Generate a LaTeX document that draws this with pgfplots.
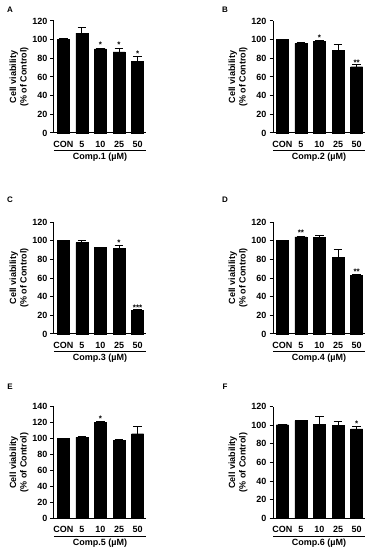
\documentclass[border=0pt]{standalone}
\usepackage{pgfplots}
\pgfplotsset{compat=1.18}
\usepackage{pgfplotstable}
\usepackage{fontspec}
\setmainfont{Liberation Sans}

\pgfplotstableread{
x y e
0 100 1
1 107 6.5
2 90 0.5
3 87 3.5
4 77 5
}\dataA
\pgfplotstableread{
x y s
2 95.8 *
3 96.5 *
4 87 *
}\starA
\pgfplotstableread{
x y e
0 100 0.5
1 96 0.5
2 98 1
3 88.5 6.3
4 71 2.5
}\dataB
\pgfplotstableread{
x y s
2 103.7 *
4 77.4 **
}\starB
\pgfplotstableread{
x y e
0 100 0.7
1 98 2.2
2 92.5 0.7
3 92 3
4 25.5 0.5
}\dataC
\pgfplotstableread{
x y s
3 99.7 *
4 30.2 ***
}\starC
\pgfplotstableread{
x y e
0 100 0.7
1 104 0.5
2 103.5 2
3 82 8.5
4 62.5 1
}\dataD
\pgfplotstableread{
x y s
1 110 **
4 68.5 **
}\starD
\pgfplotstableread{
x y e
0 100 0.5
1 101.5 1
2 120 1.5
3 98 0.3
4 106 9
}\dataE
\pgfplotstableread{
x y s
2 126.4 *
}\starE
\pgfplotstableread{
x y e
0 100.5 0.5
1 105 0.3
2 101 7.8
3 99.5 4.2
4 96 3
}\dataF
\pgfplotstableread{
x y s
4 102.7 *
}\starF

\pgfplotsset{
  common/.style={
    scale only axis, width=92pt, height=112pt,
    anchor=south west,
    xmin=-0.5, xmax=4.45, ymin=0,
    enlarge y limits=false,
    axis x line*=bottom, axis y line*=left,
    axis line style={line width=1pt, -},
    xtick={0,1,2,3,4}, xticklabels={CON,5,10,25,50},
    major tick length=3.5pt,
    tick align=outside,
    tick style={line width=1pt, black},
    xtick style={draw=none},
    /pgf/number format/assume math mode=true,
    ticklabel style={font=\bfseries\fontsize{9}{10}\selectfont},
    yticklabel style={xshift=0.5pt},
    xticklabel style={yshift=-1pt},
    ylabel={Cell viability\\(\% of Control)},
    ylabel style={at={(axis description cs:-0.38,0.5)}, anchor=center, align=center,
      font=\bfseries\fontsize{9}{10.5}\selectfont},
    xlabel style={at={(axis description cs:0.5,0)}, anchor=center, yshift=-24.5pt,
      font=\bfseries\fontsize{9}{10}\selectfont},
    clip=false,
  },
  barst/.style={ybar, bar width=12pt, fill=black, draw=black,
    error bars/.cd, y dir=plus, y explicit,
    error bar style={line width=1pt, black},
    error mark options={rotate=90, mark size=4.3pt, line width=1pt, black}},
  starst/.style={draw=none, mark=none, nodes near coords, point meta=explicit symbolic,
    nodes near coords style={anchor=center, inner sep=0pt, yshift=-1.5pt,
      font=\bfseries\fontsize{8}{9}\selectfont}},
}

\newcommand\panel[6]{%
\begin{axis}[common, at={(#1,#2)}, ymax=#3, ytick={0,20,...,#3}, xlabel={Comp.#6 (µM)}]
\addplot[barst] table[x=x, y=y, y error=e]{#4};
\addplot[starst] table[x=x, y=y, meta=s]{#5};
\draw[line width=1pt] ([yshift=-17.7pt]rel axis cs:0,0) -- ([yshift=-17.7pt]rel axis cs:1,0);
\end{axis}
}

\begin{document}
\begin{tikzpicture}
\path[use as bounding box] (0,0) rectangle (372pt,550pt);
\panel{54pt}{417pt}{120}{\dataA}{\starA}{1}
\panel{273pt}{417pt}{120}{\dataB}{\starB}{2}
\panel{54pt}{216pt}{120}{\dataC}{\starC}{3}
\panel{273pt}{216pt}{120}{\dataD}{\starD}{4}
\panel{54pt}{31.5pt}{140}{\dataE}{\starE}{5}
\panel{273pt}{31.5pt}{120}{\dataF}{\starF}{6}
\begin{scope}[every node/.style={font=\bfseries\fontsize{8}{9}\selectfont}]
\node at (10pt,540pt) {A};
\node at (225pt,540pt) {B};
\node at (10pt,350pt) {C};
\node at (225pt,350pt) {D};
\node at (10pt,163pt) {E};
\node at (225pt,163pt) {F};
\end{scope}
\end{tikzpicture}
\end{document}
